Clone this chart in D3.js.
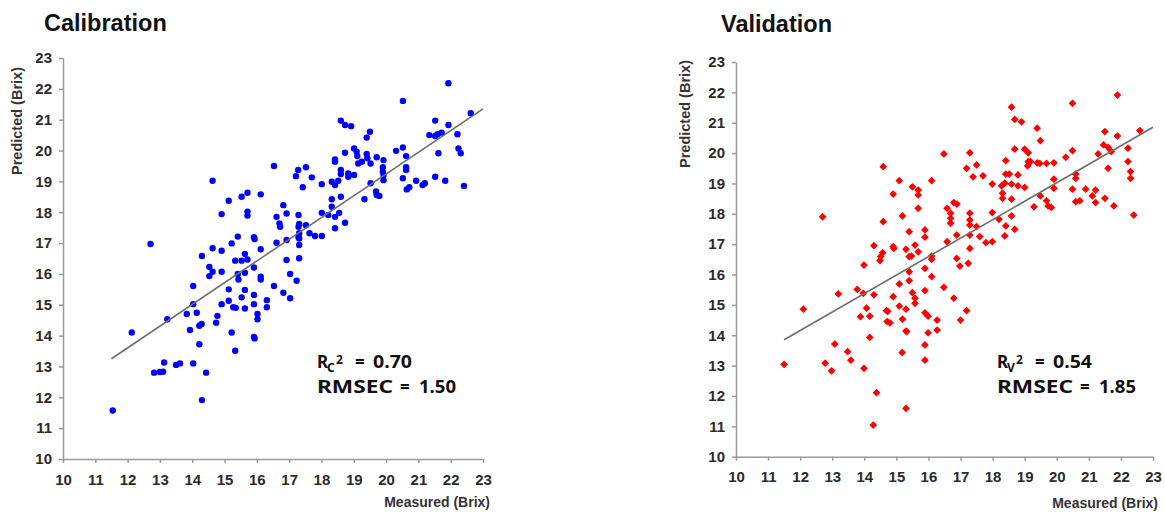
<!DOCTYPE html>
<html>
<head>
<meta charset="utf-8">
<script src="https://cdn.jsdelivr.net/npm/d3@7"></script>
<style>
  body { margin: 0; background: #fff; }
  svg { display: block; }
  .title { font-family: "Liberation Sans", Arial, sans-serif; font-weight: bold; font-size: 23.5px; fill: #111; }
  .axis-title { font-family: "Liberation Sans", Arial, sans-serif; font-weight: bold; fill: #333; }
  .axis path, .axis line { stroke: #9a9a9a; stroke-width: 1.5; }
  .axis text { font-family: "Liberation Sans", Arial, sans-serif; font-weight: bold; font-size: 15px; fill: #2b2b2b; }
  .fit { fill: none; stroke: #6e6e6e; stroke-width: 1.6; }
  .stat { font-family: "Noto Sans", sans-serif; font-weight: bold; font-size: 17px; fill: #111; }
  .stat-small { font-family: "Noto Sans", sans-serif; font-weight: bold; font-size: 12px; fill: #111; }
</style>
</head>
<body>
<svg width="1165" height="512"></svg>
<script>
var svg = d3.select("svg");

// tick values, same on both axes of both panels
var tickValues = [10, 11, 12, 13, 14, 15, 16, 17, 18, 19, 20, 21, 22, 23];

// calibration set: [measured, predicted]
var calPoints = [
  [16.53,19.50],[17.21,19.17],[17.28,19.37],[14.63,19.02],[15.13,18.37],[15.53,18.50],[15.71,18.63],[16.12,18.58],
  [14.91,17.94],[15.71,18.02],[15.71,17.89],[16.82,18.23],[16.92,17.96],[16.61,17.85],[16.70,17.64],[16.72,17.53],
  [17.29,17.91],[17.29,17.53],[12.71,16.97],[15.41,17.21],[15.91,17.19],[15.93,17.13],[15.22,16.99],[14.63,16.83],
  [14.91,16.75],[16.61,17.01],[16.92,17.10],[17.29,17.19],[16.12,16.80],[14.30,16.58],[15.63,16.65],[15.33,16.43],
  [15.53,16.43],[15.71,16.47],[14.53,16.23],[14.63,16.07],[14.91,16.07],[14.53,15.93],[15.91,16.21],[15.41,16.00],
  [15.63,16.04],[15.43,15.82],[16.12,15.91],[16.12,15.82],[16.92,16.45],[17.03,16.00],[17.23,15.78],[14.03,15.61],
  [15.13,15.50],[15.63,15.48],[16.53,15.61],[15.91,15.32],[15.53,15.24],[16.82,15.39],[17.03,15.21],[14.03,15.02],
  [14.91,15.02],[15.13,15.13],[15.27,14.92],[15.35,14.90],[15.63,14.88],[15.91,15.02],[16.31,15.15],[16.31,14.92],
  [13.83,14.70],[14.14,14.74],[14.78,14.64],[14.74,14.42],[16.02,14.70],[16.02,14.53],[13.23,14.53],[14.29,14.38],
  [14.22,14.32],[13.93,14.18],[15.22,14.10],[15.91,13.96],[15.93,13.91],[12.13,14.10],[14.22,13.72],[15.33,13.51],
  [11.54,11.57],[12.82,12.80],[13.00,12.82],[13.10,12.83],[13.13,13.13],[13.50,13.05],[13.62,13.10],[14.03,13.10],
  [14.30,11.91],[14.43,12.80],
  [21.93,22.18],[20.52,21.61],[22.62,21.21],[18.60,20.97],[18.73,20.83],[18.92,20.79],[21.52,20.97],[21.93,20.83],
  [19.50,20.61],[19.40,20.42],[21.34,20.50],[21.52,20.47],[21.59,20.53],[21.72,20.58],[22.21,20.53],[22.24,20.07],
  [22.31,19.91],[21.62,19.91],[20.31,19.99],[20.52,20.10],[20.62,19.82],[20.62,19.46],[20.62,19.37],[20.52,19.10],
  [20.93,19.02],[21.13,18.88],[21.20,18.94],[21.52,19.15],[21.83,19.02],[22.41,18.85],[20.64,18.74],[20.72,18.81],
  [19.01,20.07],[19.09,19.96],[19.11,19.82],[19.40,19.89],[19.42,19.75],[19.14,19.58],[19.25,19.64],[19.52,19.58],
  [19.71,19.78],[19.92,19.69],[19.90,19.46],[19.90,19.31],[19.92,19.21],[19.92,19.04],[19.52,18.94],[19.69,18.67],
  [19.71,18.56],[19.79,18.53],[19.33,18.42],[18.73,19.93],[18.42,19.71],[18.42,19.64],[18.60,19.37],[18.60,19.24],
  [18.83,19.26],[18.83,19.15],[19.01,19.21],[18.32,18.99],[18.42,18.88],[18.52,19.02],[18.60,18.50],[18.32,18.42],
  [18.32,18.18],[18.55,17.98],[18.42,17.85],[18.73,17.66],[18.42,17.48],[18.01,17.98],[18.01,18.91],[18.21,17.91],
  [17.70,19.13],[17.52,19.46],[17.42,18.81],[17.31,17.62],[17.52,17.58],[17.31,17.32],[17.31,17.15],[17.31,16.94],
  [17.63,17.32],[17.80,17.23],[18.01,17.23],[17.31,16.51]
];

// validation set: [measured, predicted]
var valPoints = [
  [16.48,19.97],[17.19,19.50],[14.59,19.55],[15.09,19.09],[15.50,18.89],[15.68,18.78],[15.68,18.62],[16.10,19.09],
  [14.90,18.65],[16.79,18.37],[16.89,18.32],[16.58,18.18],[16.69,18.02],[16.69,17.85],[16.69,17.69],[15.68,18.18],
  [12.70,17.90],[15.19,17.93],[14.59,17.74],[15.40,17.41],[15.89,17.47],[15.89,17.23],[16.88,17.30],[16.58,17.08],
  [14.30,16.95],[14.90,16.92],[14.92,16.86],[15.30,16.83],[15.58,16.97],[15.68,16.75],[14.57,16.72],[14.51,16.59],
  [14.49,16.46],[15.40,16.59],[15.47,16.61],[16.10,16.61],[16.10,16.50],[16.88,16.53],[16.98,16.28],[17.24,16.37],
  [13.99,16.31],[15.89,16.20],[15.40,16.09],[16.10,15.93],[15.40,15.80],[15.09,15.69],[16.48,15.58],[13.78,15.51],
  [13.97,15.38],[13.19,15.36],[15.50,15.40],[15.58,15.22],[15.58,15.05],[15.89,15.47],[14.90,15.27],[16.79,15.22],
  [12.10,14.86],[14.07,14.89],[15.09,14.96],[15.30,14.86],[14.69,14.81],[14.73,14.79],[13.88,14.61],[14.17,14.63],
  [15.89,14.74],[15.99,14.63],[15.19,14.53],[14.71,14.45],[14.80,14.41],[17.19,14.81],[17.00,14.50],[16.27,14.50],
  [16.27,14.17],[15.30,14.14],[15.32,14.12],[15.99,14.08],[14.17,13.93],[13.08,13.71],[15.89,13.68],
  [11.50,13.04],[12.78,13.08],[12.98,12.83],[13.48,13.46],[13.58,13.18],[13.99,12.91],[14.30,15.33],[14.38,12.11],
  [14.28,11.04],[15.30,11.59],[15.18,13.43],[15.89,13.18],
  [21.89,21.91],[20.49,21.64],[18.59,21.51],[18.69,21.11],[18.90,21.03],[19.39,20.82],[19.49,20.41],[22.59,20.74],
  [21.50,20.71],[21.89,20.56],[17.29,20.01],[17.50,19.61],[17.39,19.22],[17.70,19.25],[17.99,18.98],[18.69,20.13],
  [19.00,20.13],[19.11,20.01],[18.41,19.75],[19.11,19.72],[19.18,19.72],[19.09,19.58],[19.39,19.68],[19.47,19.66],
  [19.68,19.66],[19.91,19.68],[20.28,19.86],[20.49,20.08],[21.29,19.97],[21.46,20.27],[21.60,20.19],[21.70,20.05],
  [22.22,20.16],[22.22,19.72],[21.60,19.50],[22.30,19.39],[22.30,19.17],[22.40,17.96],[21.78,18.26],[21.50,18.51],
  [21.21,18.78],[21.11,18.59],[21.21,18.37],[20.90,18.81],[20.59,19.31],[20.59,19.17],[20.49,18.81],[20.59,18.40],
  [20.72,18.43],[19.91,19.14],[19.91,18.84],[19.49,18.59],[19.68,18.43],[19.73,18.26],[19.83,18.21],[19.29,18.23],
  [18.41,19.31],[18.52,19.31],[18.79,19.28],[18.28,18.92],[18.38,19.01],[18.59,18.98],[18.79,18.92],[19.00,18.87],
  [18.31,18.68],[18.31,18.51],[18.59,18.48],[17.99,18.04],[18.20,17.82],[18.59,17.93],[18.41,17.60],[18.69,17.49],
  [18.38,17.27],[17.79,17.05],[17.99,17.08],[17.50,17.58],[17.29,18.02],[17.29,17.80],[17.29,17.63],[17.29,17.30],
  [17.60,17.25],[17.29,16.86]
];

// fitted lines (end points)
var calFit = [[11.5, 13.25], [23, 21.35]];
var valFit = [[11.5, 13.85], [23, 20.85]];

var titles = ["Calibration", "Validation"];
var statSub = ["C", "V"];
var statR2 = ["0.70", "0.54"];
var statRmse = ["1.50", "1.85"];

var panels = [
  {points: calPoints, fit: calFit, x0: 63, x1: 483, y0: 459, y1: 58, titleX: 44, titleY: 31,
   yLabX: 22, yLabY: 121, xLabX: 490, xLabY: 507, statX: 317, shape: "circle", color: "#0000ff"},
  {points: valPoints, fit: valFit, x0: 736, x1: 1153, y0: 456.7, y1: 62, titleX: 721, titleY: 32,
   yLabX: 690, yLabY: 114, xLabX: 1158, xLabY: 508, statX: 997, shape: "diamond", color: "#ff0000"}
];

panels.forEach(function(p, i) {
  var x = d3.scaleLinear().domain([10, 23]).range([p.x0, p.x1]);
  var y = d3.scaleLinear().domain([10, 23]).range([p.y0, p.y1]);
  var g = svg.append("g");

  g.append("text").attr("class", "title")
      .attr("x", p.titleX).attr("y", p.titleY).text(titles[i]);

  g.append("g").attr("class", "axis")
      .attr("transform", "translate(0," + p.y0 + ")")
      .call(d3.axisBottom(x).tickValues(tickValues).tickSize(4).tickSizeOuter(0).tickPadding(11));

  g.append("g").attr("class", "axis")
      .attr("transform", "translate(" + p.x0 + ",0)")
      .call(d3.axisLeft(y).tickValues(tickValues).tickSize(4).tickSizeOuter(0).tickPadding(7));

  g.append("text").attr("class", "axis-title")
      .attr("font-size", 14.5)
      .attr("text-anchor", "middle")
      .attr("transform", "translate(" + p.yLabX + "," + p.yLabY + ") rotate(-90)")
      .text("Predicted (Brix)");

  g.append("text").attr("class", "axis-title")
      .attr("font-size", 14)
      .attr("text-anchor", "end")
      .attr("x", p.xLabX).attr("y", p.xLabY)
      .text("Measured (Brix)");

  var line = d3.line()
      .x(function(d) { return x(d[0]); })
      .y(function(d) { return y(d[1]); });

  if (p.shape == "circle") {
    g.selectAll(".pt").data(p.points).enter().append("circle")
        .attr("class", "pt")
        .attr("cx", function(d) { return x(d[0]); })
        .attr("cy", function(d) { return y(d[1]); })
        .attr("r", 3.2)
        .attr("fill", p.color);
  } else {
    var sym = d3.symbol().type(d3.symbolSquare).size(30);
    g.selectAll(".pt").data(p.points).enter().append("path")
        .attr("class", "pt")
        .attr("d", sym)
        .attr("transform", function(d) { return "translate(" + x(d[0]) + "," + y(d[1]) + ") rotate(45)"; })
        .attr("fill", p.color);
  }

  g.append("path").attr("class", "fit").attr("d", line(p.fit));

  // R2 / RMSEC note, glyphs are wide in the original so pieces are stretched
  var sx = p.statX;
  g.append("text").attr("class", "stat").attr("x", sx).attr("y", 368).text("R");
  g.append("text").attr("class", "stat-small").attr("x", sx + 10).attr("y", 371.5).text(statSub[i]);
  g.append("text").attr("class", "stat-small").attr("x", sx + 19).attr("y", 363.5).text("2");
  g.append("text").attr("class", "stat").attr("x", sx + 38).attr("y", 368).text("=");
  g.append("text").attr("class", "stat").attr("x", sx + 56).attr("y", 368)
      .attr("textLength", 39).attr("lengthAdjust", "spacingAndGlyphs").text(statR2[i]);

  g.append("text").attr("class", "stat").attr("x", sx).attr("y", 392.5)
      .attr("textLength", 76).attr("lengthAdjust", "spacingAndGlyphs").text("RMSEC");
  g.append("text").attr("class", "stat").attr("x", sx + 83).attr("y", 392.5).text("=");
  g.append("text").attr("class", "stat").attr("x", sx + 102).attr("y", 392.5)
      .attr("textLength", 37).attr("lengthAdjust", "spacingAndGlyphs").text(statRmse[i]);
});
</script>
</body>
</html>
